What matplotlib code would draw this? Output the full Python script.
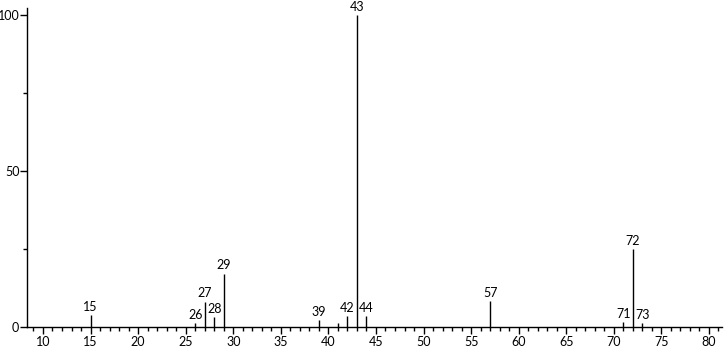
import matplotlib.pyplot as plt
from matplotlib.ticker import MultipleLocator

plt.rcParams["font.family"] = ["Lato", "DejaVu Sans"]

# m/z and relative abundance
MZ = [15, 26, 27, 28, 29, 39, 41, 42, 43, 44, 57, 71, 72, 73]
ABUNDANCE = [3.7, 1.2, 8.0, 3.0, 17.0, 2.0, 1.2, 3.3, 100.0, 3.3, 8.1, 1.3, 25.0, 1.2]
LABELED = [15, 26, 27, 28, 29, 39, 42, 43, 44, 57, 71, 72, 73]


def main() -> None:
    fig = plt.figure(figsize=(7.26, 3.49), dpi=100)
    ax = fig.add_axes([27 / 726, 22.5 / 349, 695 / 726, 318.5 / 349])

    ax.vlines(MZ, 0, ABUNDANCE, color="black", linewidth=1.0)
    for mz, val in zip(MZ, ABUNDANCE):
        if mz in LABELED:
            ax.annotate(str(mz), (mz, val), xytext=(0, 1.5), textcoords="offset points",
                        ha="center", va="bottom", fontsize=9)

    ax.set_xlim(8.32, 81.37)
    ax.set_ylim(0, 102.2)
    ax.set_xticks(range(10, 85, 5))
    ax.xaxis.set_minor_locator(MultipleLocator(1))
    ax.set_yticks([0, 50, 100])
    ax.set_yticks([25, 75], minor=True)
    ax.tick_params(axis="both", which="major", length=5, width=1, labelsize=9, pad=2)
    ax.tick_params(axis="both", which="minor", length=3, width=1)
    ax.tick_params(axis="y", pad=0.5)

    for side in ("top", "right"):
        ax.spines[side].set_visible(False)
    for side in ("left", "bottom"):
        ax.spines[side].set_linewidth(1.0)

    fig.savefig("out.png", dpi=100)


if __name__ == "__main__":
    main()
